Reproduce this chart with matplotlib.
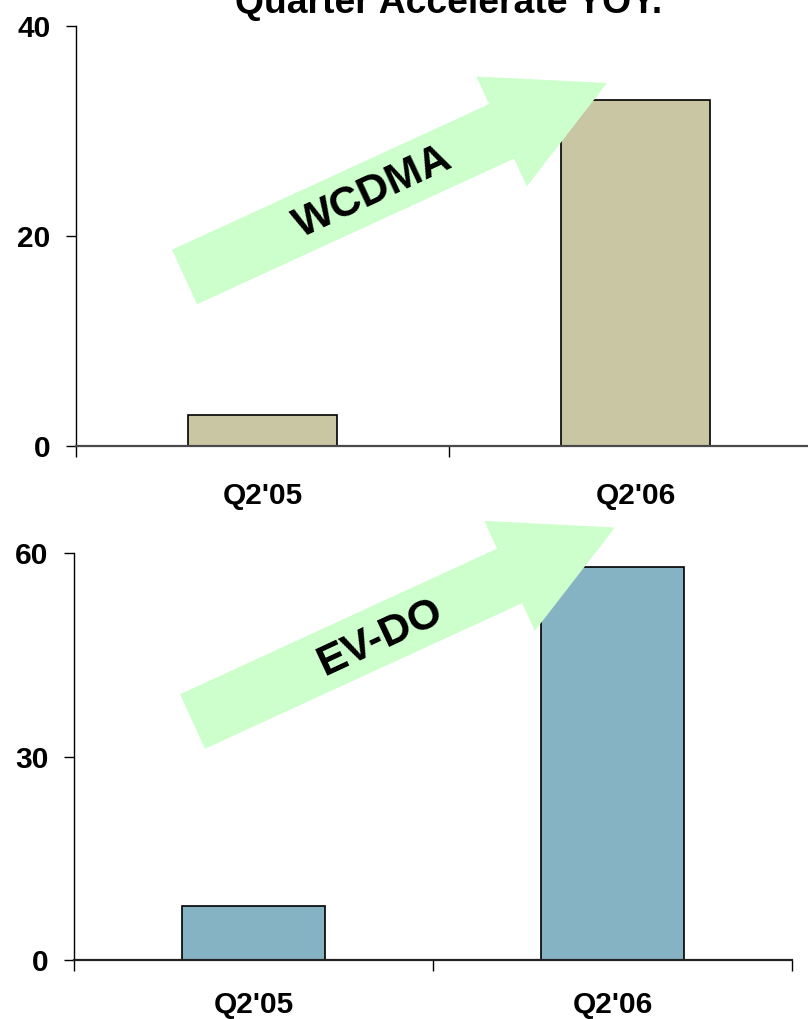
import matplotlib
matplotlib.use("Agg")
import matplotlib.pyplot as plt
from matplotlib.patches import FancyArrow

plt.rcParams['font.family'] = ['Liberation Sans', 'DejaVu Sans']
plt.rcParams['font.weight'] = 'bold'

TITLE = "Quarter Accelerate YOY."
QUARTERS = ["Q2'05", "Q2'06"]

WCDMA_VALUES = [3, 33]
WCDMA_TICKS = [0, 20, 40]

EVDO_VALUES = [8, 58]
EVDO_TICKS = [0, 30, 60]

W, H = 808, 1019
fig = plt.figure(figsize=(W / 100, H / 100), dpi=100, facecolor='white')


def px_rect(left, top, right, bottom):
    # pixel box -> figure fraction [x, y, w, h]
    return [left / W, 1 - bottom / H, (right - left) / W, (bottom - top) / H]


def bar_panel(rect, values, ticks, color, axis_color, label_pad):
    ax = fig.add_axes(rect)
    x = range(len(values))
    ax.bar(x, values, width=0.4, color=color, edgecolor='black', linewidth=1.2, zorder=2)
    ax.set_xlim(-0.5, len(values) - 0.5)
    ax.set_ylim(ticks[0], ticks[-1])
    ax.set_yticks(ticks)
    ax.set_yticklabels([str(t) for t in ticks], fontsize=21.5, fontweight='bold')
    ax.tick_params(axis='y', direction='out', length=7.5, width=1, pad=11, colors='black')

    # category labels sit between the boundary ticks
    ax.set_xticks(list(x))
    ax.set_xticklabels(QUARTERS, fontsize=21.5, fontweight='bold')
    ax.tick_params(axis='x', which='major', length=0, pad=label_pad)
    ax.set_xticks([i - 0.5 for i in range(len(values) + 1)], minor=True)
    ax.tick_params(axis='x', which='minor', direction='out', length=8, width=1, color='black')

    for s in ('top', 'right'):
        ax.spines[s].set_visible(False)
    ax.spines['left'].set_color('black')
    ax.spines['left'].set_linewidth(1)
    ax.spines['bottom'].set_color(axis_color)
    ax.spines['bottom'].set_linewidth(1.6)
    return ax


bar_panel(px_rect(76, 26, 822, 446), WCDMA_VALUES, WCDMA_TICKS,
          '#C9C6A3', '#4a4a4a', 26)
bar_panel(px_rect(74, 553, 792, 960), EVDO_VALUES, EVDO_TICKS,
          '#86B3C3', '#222222', 22.5)

fig.text(449 / W, 1 - 13 / H, TITLE, ha='center', va='baseline',
         fontsize=26.8, fontweight='bold')

# overlay in pixel units for the growth arrows
over = fig.add_axes([0, 0, 1, 1])
over.set_xlim(0, W)
over.set_ylim(H, 0)
over.set_axis_off()
over.patch.set_alpha(0)

arrows = [((184.5, 277), 'WCDMA', (373, 192)),
          ((192.5, 721.5), 'EV-DO', (380, 638))]
for (x0, y0), label, (tx, ty) in arrows:
    over.add_patch(FancyArrow(x0, y0, 422.5, -194, width=60, head_width=121,
                              head_length=116, length_includes_head=True,
                              color='#CCFFCC', linewidth=0, zorder=3))
    over.text(tx, ty, label, rotation=25, rotation_mode='anchor',
              ha='center', va='center', fontsize=31, fontweight='bold', zorder=4)

fig.savefig('out.png', dpi=100, facecolor='white')
